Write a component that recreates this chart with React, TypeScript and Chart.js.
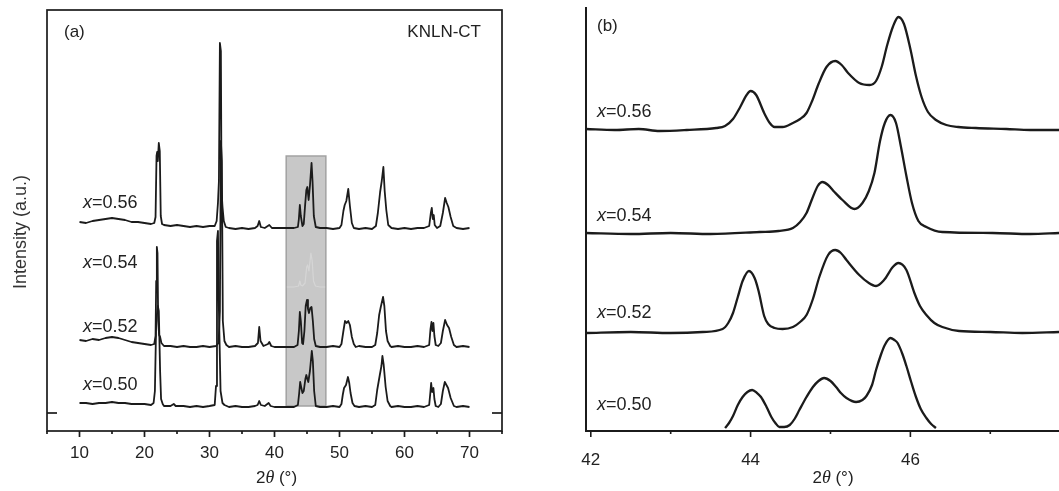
import React, { useEffect, useRef } from "react";
import { Chart, registerables } from "chart.js";

Chart.register(...registerables);

const FONT = "'Liberation Sans', Arial, Helvetica, sans-serif";
const SERIF = "'Liberation Serif', 'Times New Roman', serif";
const INK = "#1b1b1b";
const TEXT = "#222222";

type Pt = [number, number];

// ---------------- panel (a): full patterns ----------------
const aXTicks = [5, 10, 15, 20, 25, 30, 35, 40, 45, 50, 55, 60, 65, 70, 75];
const aXLabeled = [10, 20, 30, 40, 50, 60, 70];
const aSeriesNames = ["0.56", "0.54", "0.52", "0.50"];
const aLabelLevels = [228, 168, 104, 46];

const a056: Pt[] = [
  [10, 209], [11, 208], [12, 210], [13, 211], [14, 212], [15, 213], [16, 212], [17, 211], [18, 209], [19, 209],
  [20, 208], [21, 207], [21.5, 208], [21.7, 214], [21.85, 275], [21.95, 279], [22.05, 270], [22.2, 288], [22.35, 280],
  [22.5, 215], [22.7, 207], [23, 206], [24, 205], [25, 206], [26, 205], [27, 204], [28, 205], [29, 204], [30, 205],
  [30.8, 205], [31.1, 210], [31.3, 228], [31.45, 250], [31.6, 388], [31.75, 380], [31.85, 240], [32.0, 224],
  [32.2, 210], [32.5, 204], [33, 203], [34, 202], [35, 203], [36, 202], [37, 203], [37.4, 205], [37.65, 210],
  [37.9, 204], [38.5, 203], [39.2, 206], [39.6, 203], [40, 203], [41, 203], [42, 203], [43, 203], [43.6, 204],
  [43.75, 212], [43.9, 226], [44.05, 215], [44.3, 205], [44.5, 207], [44.7, 225], [44.9, 241], [45.05, 244],
  [45.25, 231], [45.45, 245], [45.7, 268], [45.85, 250], [46.05, 215], [46.35, 204], [47, 203], [48, 203],
  [49, 202], [50, 203], [50.3, 206], [50.6, 220], [50.8, 226], [51.05, 230], [51.35, 242], [51.6, 225],
  [51.9, 208], [52.2, 203], [53, 202], [54, 203], [55, 202], [55.6, 205], [55.9, 218], [56.25, 239], [56.5, 250],
  [56.75, 264], [56.95, 240], [57.2, 221], [57.5, 206], [58, 203], [59, 202], [60, 203], [61, 202], [62, 203],
  [63, 203], [63.8, 205], [64.05, 218], [64.2, 223], [64.35, 212], [64.5, 216], [64.65, 206], [65, 203],
  [65.5, 205], [65.9, 218], [66.25, 233], [66.5, 228], [66.75, 224], [67.1, 214], [67.5, 205], [68, 203],
  [69, 202], [70, 203],
];

const a054Ghost: Pt[] = [
  [41.9, 144], [43, 144], [43.7, 145], [43.9, 150], [44.05, 146], [44.3, 145], [44.7, 148], [44.95, 164],
  [45.1, 166], [45.3, 160], [45.6, 178], [45.8, 170], [46.0, 150], [46.3, 145], [47, 144], [47.8, 144],
];

const a052: Pt[] = [
  [10, 91], [11, 90], [12, 92], [13, 91], [14, 93], [15, 94], [16, 93], [17, 91], [18, 89], [19, 88], [20, 87],
  [21, 86], [21.5, 87], [21.7, 95], [21.8, 150], [21.9, 184], [22.0, 178], [22.1, 110], [22.25, 96], [22.4, 94],
  [22.6, 88], [23, 85], [24, 85], [25, 84], [26, 85], [27, 84], [28, 84], [29, 85], [30, 84], [31.0, 85],
  [31.4, 88], [31.6, 120], [31.75, 290], [31.9, 270], [32.05, 110], [32.3, 90], [32.6, 86], [33, 84], [34, 85],
  [35, 84], [36, 84], [37, 85], [37.45, 88], [37.65, 104], [37.85, 90], [38.3, 85], [39.0, 87], [39.2, 89],
  [39.5, 85], [40, 84], [41, 84], [42, 84], [43, 84], [43.55, 86], [43.75, 100], [43.9, 119], [44.05, 110],
  [44.25, 88], [44.4, 87], [44.6, 100], [44.8, 125], [45.0, 131], [45.15, 122], [45.3, 118], [45.5, 123],
  [45.7, 124], [45.9, 110], [46.1, 92], [46.35, 85], [47, 84], [48, 84], [49, 85], [50, 84], [50.3, 87],
  [50.6, 100], [50.85, 110], [51.1, 108], [51.35, 110], [51.6, 106], [51.9, 94], [52.2, 87], [52.5, 84],
  [53, 85], [54, 84], [55, 84], [55.5, 86], [55.8, 98], [56.1, 116], [56.35, 124], [56.7, 134], [56.9, 125],
  [57.15, 100], [57.4, 90], [57.8, 85], [58, 84], [59, 85], [60, 84], [61, 84], [62, 85], [63, 84], [63.8, 86],
  [64.0, 102], [64.15, 109], [64.3, 100], [64.45, 108], [64.6, 95], [64.8, 86], [65.2, 85], [65.6, 88],
  [65.9, 100], [66.25, 111], [66.55, 106], [66.85, 103], [67.2, 94], [67.6, 86], [68, 84], [69, 85], [70, 84],
];

const a050: Pt[] = [
  [10, 28], [11, 28], [12, 27], [13, 28], [14, 28], [15, 29], [16, 28], [17, 28], [18, 27], [19, 27], [20, 27],
  [21, 26], [21.4, 28], [21.6, 40], [21.8, 110], [22.05, 125], [22.2, 120], [22.4, 60], [22.55, 32], [22.8, 27],
  [23, 25], [24, 25], [24.5, 27], [24.8, 25], [26, 25], [27, 24], [28, 25], [29, 24], [30, 25], [30.8, 26],
  [31.0, 45], [31.15, 190], [31.3, 200], [31.45, 120], [31.7, 40], [32.0, 28], [32.3, 26], [33, 24], [34, 25],
  [35, 24], [36, 24], [37, 25], [37.4, 26], [37.65, 30], [37.9, 26], [38.5, 25], [39.1, 28], [39.4, 25], [40, 24],
  [41, 24], [42, 24], [43, 24], [43.6, 26], [43.8, 38], [43.95, 49], [44.1, 44], [44.3, 38], [44.5, 40],
  [44.75, 52], [44.9, 56], [45.05, 52], [45.2, 49], [45.45, 60], [45.74, 80], [45.9, 70], [46.1, 40],
  [46.35, 25], [47, 24], [48, 24], [49, 25], [50, 24], [50.3, 27], [50.5, 36], [50.7, 43], [51.0, 46],
  [51.3, 54], [51.5, 48], [51.7, 38], [52.0, 28], [52.3, 25], [53, 24], [54, 25], [55, 24], [55.5, 26],
  [55.8, 41], [56.2, 56], [56.45, 65], [56.6, 75], [56.8, 66], [57.1, 44], [57.4, 30], [57.8, 25], [58, 24],
  [59, 25], [60, 24], [61, 24], [62, 25], [63, 24], [63.8, 26], [64.0, 40], [64.1, 48], [64.25, 39],
  [64.45, 43], [64.6, 32], [64.8, 25], [65.2, 24], [65.6, 27], [65.9, 40], [66.2, 49], [66.45, 46], [66.7, 43],
  [67.1, 33], [67.6, 25], [68, 24], [69, 25], [70, 24],
];

const aHighlight = { from: 41.8, to: 47.9, low: 25, high: 275 };

// ---------------- panel (b): 42–48° zoom ----------------
const bXTicks = [42, 43, 44, 45, 46, 47];
const bXLabeled = [42, 44, 46];
const bSeriesNames = ["0.56", "0.54", "0.52", "0.50"];
const bLabelLevels = [319, 215, 118, 26];

const b056: Pt[] = [
  [41.94, 302], [42.3, 301], [42.6, 302], [42.86, 300], [43.2, 301], [43.57, 303], [43.68, 305], [43.78, 312],
  [43.87, 324], [43.95, 336], [44.0, 340], [44.07, 336], [44.17, 318], [44.24, 308], [44.3, 304], [44.4, 304],
  [44.53, 308], [44.62, 312], [44.7, 318], [44.77, 330], [44.85, 347], [44.95, 364], [45.06, 370], [45.14, 366],
  [45.22, 358], [45.36, 348], [45.49, 346], [45.57, 350], [45.64, 364], [45.71, 386], [45.78, 404], [45.85, 414],
  [45.92, 407], [46.0, 382], [46.07, 355], [46.14, 334], [46.22, 319], [46.32, 311], [46.45, 306], [46.6, 304],
  [46.82, 303], [47.2, 302], [47.5, 301], [47.86, 301],
];

const b054: Pt[] = [
  [41.94, 198], [42.5, 197], [43, 198], [43.5, 197], [44.11, 199], [44.35, 200], [44.53, 203], [44.62, 209],
  [44.7, 218], [44.77, 232], [44.84, 245], [44.9, 249], [44.97, 246], [45.05, 239], [45.15, 231], [45.3, 222],
  [45.4, 228], [45.48, 240], [45.55, 258], [45.62, 290], [45.68, 308], [45.75, 316], [45.82, 308], [45.88, 285],
  [45.95, 255], [46.02, 228], [46.1, 210], [46.2, 204], [46.4, 199], [47.03, 198], [47.5, 197], [47.86, 198],
];

const b052: Pt[] = [
  [41.94, 98], [42.5, 99], [43, 98], [43.4, 99], [43.65, 102], [43.72, 108], [43.78, 118], [43.84, 134],
  [43.9, 150], [43.98, 160], [44.05, 153], [44.1, 140], [44.17, 115], [44.22, 107], [44.3, 103], [44.4, 102],
  [44.53, 104], [44.62, 109], [44.7, 116], [44.78, 132], [44.86, 154], [44.97, 176], [45.06, 181], [45.13, 178],
  [45.2, 171], [45.36, 156], [45.48, 148], [45.57, 145], [45.67, 151], [45.78, 164], [45.85, 168], [45.95, 161],
  [46.05, 138], [46.12, 125], [46.2, 116], [46.3, 108], [46.4, 104], [46.61, 100], [47, 99], [47.4, 98],
  [47.86, 99],
];

const b050: Pt[] = [
  [43.68, 3], [43.73, 8], [43.78, 15], [43.84, 26], [43.9, 34], [43.96, 39], [44.02, 41], [44.08, 38],
  [44.13, 34], [44.2, 24], [44.26, 14], [44.31, 8], [44.36, 4], [44.42, 4], [44.49, 6], [44.55, 12], [44.61, 21],
  [44.7, 34], [44.78, 44], [44.85, 50], [44.92, 53], [45.0, 50], [45.07, 44], [45.13, 38], [45.2, 33],
  [45.32, 29], [45.4, 31], [45.45, 35], [45.52, 46], [45.57, 61], [45.63, 76], [45.68, 86], [45.75, 93],
  [45.8, 91], [45.84, 88], [45.9, 77], [45.95, 65], [46.01, 49], [46.07, 34], [46.13, 22], [46.2, 13],
  [46.26, 7], [46.32, 3],
];

// ---------------- helpers ----------------
type Run = { t: string; font: string };

function drawRuns(ctx: CanvasRenderingContext2D, runs: Run[], x: number, y: number, align: "left" | "center") {
  ctx.save();
  ctx.textAlign = "left";
  ctx.textBaseline = "middle";
  ctx.fillStyle = TEXT;
  const widths = runs.map((r) => {
    ctx.font = r.font;
    return ctx.measureText(r.t).width;
  });
  const total = widths.reduce((s, w) => s + w, 0);
  let cx = align === "center" ? x - total / 2 : x;
  runs.forEach((r, i) => {
    ctx.font = r.font;
    ctx.fillText(r.t, cx, y);
    cx += widths[i];
  });
  ctx.restore();
}

function line(ctx: CanvasRenderingContext2D, x0: number, y0: number, x1: number, y1: number) {
  ctx.beginPath();
  ctx.moveTo(x0, y0);
  ctx.lineTo(x1, y1);
  ctx.stroke();
}

const labelRuns = (name: string): Run[] => [
  { t: "x", font: `italic 18px ${FONT}` },
  { t: "=" + name, font: `18px ${FONT}` },
];

const titleRuns: Run[] = [
  { t: "2", font: `17px ${FONT}` },
  { t: "θ", font: `italic 18px ${SERIF}` },
  { t: " (°)", font: `17px ${FONT}` },
];

const toXY = (pts: Pt[]) => pts.map(([x, y]) => ({ x, y }));

function lineDataset(pts: Pt[], color: string, width: number, smooth: boolean) {
  return {
    data: toXY(pts),
    borderColor: color,
    borderWidth: width,
    borderJoinStyle: "round" as const,
    pointRadius: 0,
    fill: false,
    tension: smooth ? 0.4 : 0,
    cubicInterpolationMode: smooth ? ("monotone" as const) : ("default" as const),
  };
}

function baseScales(xMin: number, xMax: number, yMax: number, ticks: number[], labeled: number[], yWidth: number, pad: number) {
  return {
    x: {
      type: "linear" as const,
      min: xMin,
      max: xMax,
      afterBuildTicks: (scale: any) => {
        scale.ticks = ticks.map((v) => ({ value: v }));
      },
      afterFit: (scale: any) => {
        scale.height = 60;
      },
      grid: { display: false, drawTicks: false },
      border: { display: false },
      ticks: {
        autoSkip: false,
        maxRotation: 0,
        padding: pad,
        color: TEXT,
        font: { family: FONT, size: 17 },
        callback: (v: any) => (labeled.includes(Number(v)) ? String(v) : ""),
      },
    },
    y: {
      type: "linear" as const,
      min: 0,
      max: yMax,
      afterFit: (scale: any) => {
        scale.width = yWidth;
      },
      grid: { display: false, drawTicks: false },
      border: { display: false },
      ticks: { display: false },
    },
  };
}

export default function App() {
  const refA = useRef<HTMLCanvasElement>(null);
  const refB = useRef<HTMLCanvasElement>(null);

  useEffect(() => {
    const plugA = {
      id: "panelA",
      beforeDatasetsDraw(chart: any) {
        const { ctx, scales } = chart;
        const x0 = scales.x.getPixelForValue(aHighlight.from);
        const x1 = scales.x.getPixelForValue(aHighlight.to);
        const y0 = scales.y.getPixelForValue(aHighlight.high);
        const y1 = scales.y.getPixelForValue(aHighlight.low);
        ctx.save();
        ctx.fillStyle = "#c8c8c8";
        ctx.fillRect(x0, y0, x1 - x0, y1 - y0);
        ctx.strokeStyle = "#a2a2a2";
        ctx.lineWidth = 1.5;
        ctx.strokeRect(x0, y0, x1 - x0, y1 - y0);
        ctx.restore();
      },
      afterDraw(chart: any) {
        const { ctx, chartArea: a, scales } = chart;
        ctx.save();
        ctx.strokeStyle = INK;
        ctx.lineWidth = 1.7;
        ctx.strokeRect(a.left, a.top, a.right - a.left, a.bottom - a.top);
        aXTicks.forEach((v) => {
          const px = scales.x.getPixelForValue(v);
          line(ctx, px, a.bottom, px, a.bottom + (aXLabeled.includes(v) ? 6 : 3));
        });
        const sy = scales.y.getPixelForValue(18);
        line(ctx, a.left, sy, a.left + 10, sy);
        line(ctx, a.right - 10, sy, a.right, sy);
        ctx.restore();

        drawRuns(ctx, [{ t: "(a)", font: `17px ${FONT}` }], 64, 32, "left");
        ctx.save();
        ctx.fillStyle = TEXT;
        ctx.font = `17px ${FONT}`;
        ctx.textAlign = "right";
        ctx.textBaseline = "middle";
        ctx.fillText("KNLN-CT", 481, 32);
        ctx.restore();

        aSeriesNames.forEach((n, i) => {
          drawRuns(ctx, labelRuns(n), 83, scales.y.getPixelForValue(aLabelLevels[i]), "left");
        });
        drawRuns(ctx, titleRuns, (a.left + a.right) / 2 + 2, 478, "center");

        ctx.save();
        ctx.translate(21, 232);
        ctx.rotate(-Math.PI / 2);
        ctx.fillStyle = "#333";
        ctx.font = `18px ${FONT}`;
        ctx.textAlign = "center";
        ctx.textBaseline = "middle";
        ctx.fillText("Intensity (a.u.)", 0, 0);
        ctx.restore();
      },
    };

    const plugB = {
      id: "panelB",
      afterDraw(chart: any) {
        const { ctx, chartArea: a, scales } = chart;
        ctx.save();
        ctx.strokeStyle = INK;
        ctx.lineWidth = 2;
        line(ctx, a.left, a.top, a.left, a.bottom + 1);
        line(ctx, a.left - 1, a.bottom, a.right, a.bottom);
        ctx.lineWidth = 1.6;
        bXTicks.forEach((v) => {
          const px = scales.x.getPixelForValue(v);
          line(ctx, px, a.bottom, px, a.bottom + (bXLabeled.includes(v) ? 6 : 3));
        });
        ctx.restore();

        drawRuns(ctx, [{ t: "(b)", font: `17px ${FONT}` }], 67, 26, "left");
        bSeriesNames.forEach((n, i) => {
          drawRuns(ctx, labelRuns(n), 67, scales.y.getPixelForValue(bLabelLevels[i]), "left");
        });
        drawRuns(ctx, titleRuns, 303, 478, "center");
      },
    };

    const chartA = new Chart(refA.current!, {
      type: "line",
      data: {
        datasets: [
          lineDataset(a056, INK, 1.8, false),
          lineDataset(a052, INK, 1.8, false),
          lineDataset(a050, INK, 1.8, false),
          lineDataset(a054Ghost, "rgba(214,214,214,0.95)", 1.2, false),
        ] as any,
      },
      options: {
        animation: false,
        responsive: false,
        devicePixelRatio: 1,
        layout: { padding: { left: 0, right: 28, top: 10, bottom: 0 } },
        plugins: { legend: { display: false }, tooltip: { enabled: false } },
        scales: baseScales(5, 75, 421, aXTicks, aXLabeled, 47, 12) as any,
      },
      plugins: [plugA],
    });

    const chartB = new Chart(refB.current!, {
      type: "line",
      data: {
        datasets: [
          lineDataset(b056, INK, 2.3, true),
          lineDataset(b054, INK, 2.3, true),
          lineDataset(b052, INK, 2.3, true),
          lineDataset(b050, INK, 2.3, true),
        ] as any,
      },
      options: {
        animation: false,
        responsive: false,
        devicePixelRatio: 1,
        layout: { padding: { left: 0, right: 0, top: 7, bottom: 0 } },
        plugins: { legend: { display: false }, tooltip: { enabled: false } },
        scales: baseScales(41.94, 47.86, 424, bXTicks, bXLabeled, 56, 19) as any,
      },
      plugins: [plugB],
    });

    return () => {
      chartA.destroy();
      chartB.destroy();
    };
  }, []);

  return (
    <div style={{ position: "absolute", left: 0, top: 0, width: 1059, height: 491, background: "#fff", overflow: "hidden" }}>
      <canvas ref={refA} width={530} height={491} style={{ position: "absolute", left: 0, top: 0, width: 530, height: 491 }} />
      <canvas ref={refB} width={529} height={491} style={{ position: "absolute", left: 530, top: 0, width: 529, height: 491 }} />
    </div>
  );
}
